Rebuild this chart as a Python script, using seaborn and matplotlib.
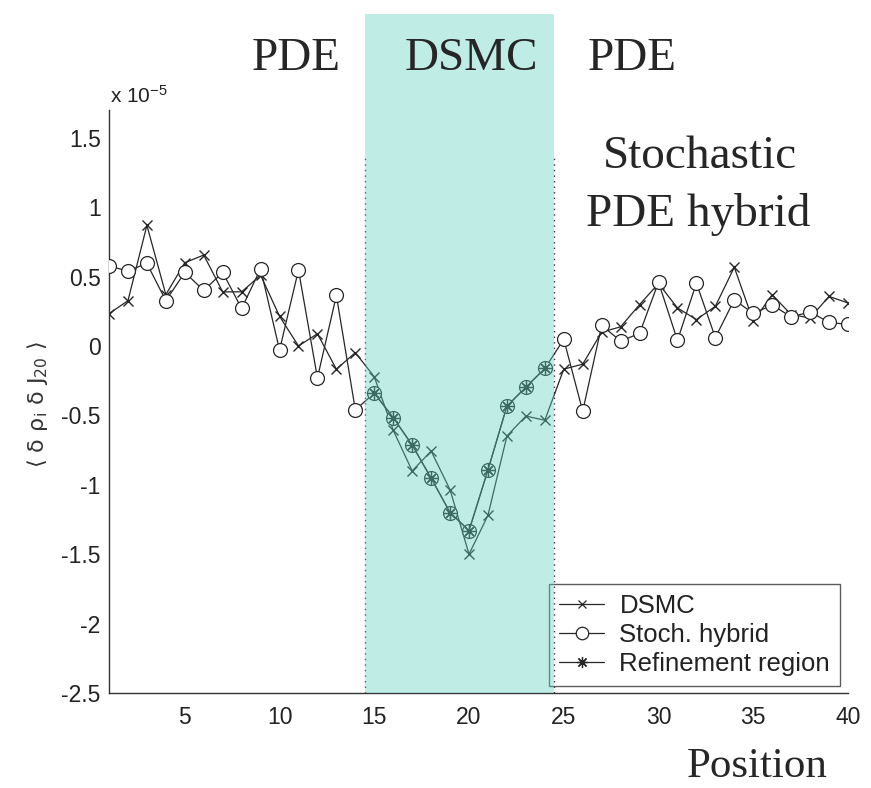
import matplotlib
matplotlib.use("Agg")
import matplotlib.pyplot as plt
import numpy as np
import pandas as pd
import seaborn as sns
from matplotlib.lines import Line2D
from matplotlib.patches import Rectangle
from matplotlib.transforms import blended_transform_factory
from matplotlib.font_manager import FontProperties

# Correlation <d rho_i d J_20> along the channel, in units of 1e-5
positions = list(range(1, 41))

dsmc = [0.233, 0.326, 0.869, 0.37, 0.60, 0.655, 0.39, 0.39, 0.51, 0.214,
        0.0, 0.088, -0.167, -0.048, -0.222, -0.607, -0.90, -0.757, -1.036, -1.50,
        -1.22, -0.648, -0.505, -0.535, -0.167, -0.131, 0.10, 0.138, 0.298, 0.45,
        0.274, 0.19, 0.286, 0.567, 0.179, 0.369, 0.226, 0.202, 0.357, 0.31]

# stochastic hybrid: PDE cells left of the patch, DSMC patch, PDE cells right
hybrid_left = [0.576, 0.54, 0.595, 0.326, 0.53, 0.40, 0.53, 0.27, 0.557, -0.03,
               0.548, -0.23, 0.364, -0.46]
refine_pos = list(range(15, 25))
refinement = [-0.34, -0.516, -0.714, -0.952, -1.20, -1.33, -0.893, -0.433, -0.297, -0.162]
hybrid_right = [0.048, -0.47, 0.148, 0.036, 0.09, 0.46, 0.04, 0.453, 0.06, 0.333,
                0.234, 0.295, 0.21, 0.245, 0.17, 0.155]

patch_lo, patch_hi = 14.5, 24.5
xticks = [5, 10, 15, 20, 25, 30, 35, 40]
yticks = [-2.5, -2, -1.5, -1, -0.5, 0, 0.5, 1, 1.5]
ytick_labels = ["-2.5", "-2", "-1.5", "-1", "-0.5", "0", "0.5", "1", "1.5"]

sns.set_theme(style="white")
plt.rcParams["font.family"] = ["Liberation Sans", "DejaVu Sans"]
plt.rcParams["mathtext.fontset"] = "custom"
plt.rcParams["mathtext.rm"] = "Liberation Sans"
plt.rcParams["mathtext.it"] = "Liberation Sans"

W, H = 871, 788
fig = plt.figure(figsize=(W / 100, H / 100), dpi=100)
fig.patch.set_facecolor("white")
ax = fig.add_axes([109 / W, 1 - 693 / H, (848 - 109) / W, (693 - 110) / H])
ax.set_facecolor("white")

df = pd.DataFrame({"Position": positions, "DSMC": dsmc,
                   "Hybrid": hybrid_left + refinement + hybrid_right})
df_ref = pd.DataFrame({"Position": refine_pos, "Refinement": refinement})

ink = "#262626"
sns.lineplot(data=df, x="Position", y="DSMC", ax=ax, color=ink, lw=0.9,
             marker="x", markersize=7, markeredgecolor=ink,
             markeredgewidth=1.0, zorder=2)
sns.lineplot(data=df, x="Position", y="Hybrid", ax=ax, color=ink, lw=0.9,
             marker="o", markersize=10, markerfacecolor="white",
             markeredgecolor=ink, markeredgewidth=0.9, zorder=3)
sns.lineplot(data=df_ref, x="Position", y="Refinement", ax=ax, color=ink, lw=0.9,
             marker=(8, 2, 0), markersize=9, markeredgecolor=ink,
             markeredgewidth=0.9, zorder=4)

ax.set_xlim(1, 40)
ax.set_ylim(-2.5, 1.7)
ax.set_xticks(xticks)
ax.set_xticklabels([str(t) for t in xticks])
ax.set_yticks(yticks)
ax.set_yticklabels(ytick_labels)
ax.set_xlabel("")
ax.set_ylabel("")
for side in ("top", "right"):
    ax.spines[side].set_visible(False)
for side in ("left", "bottom"):
    ax.spines[side].set_color("#333333")
    ax.spines[side].set_linewidth(1.0)
ax.tick_params(direction="in", length=6, width=1.0, color="#333333",
               labelsize=16.5, labelcolor="#222222")
ax.tick_params(axis="y", pad=6)
ax.tick_params(axis="x", pad=9)

# dotted borders of the DSMC patch
ax.vlines([patch_lo, patch_hi], -2.5, 1.37, colors="#333333", lw=1.0,
          linestyles=(0, (1, 3)), zorder=1)

handles = [
    Line2D([], [], color=ink, lw=0.9, marker="x", markersize=6,
           markeredgecolor=ink, markeredgewidth=0.9),
    Line2D([], [], color=ink, lw=0.9, marker="o", markersize=9,
           markerfacecolor="white", markeredgecolor=ink, markeredgewidth=0.9),
    Line2D([], [], color=ink, lw=0.9, marker=(8, 2, 0), markersize=8,
           markeredgecolor=ink, markeredgewidth=0.9),
]
leg = ax.legend(handles, ["DSMC", "Stoch. hybrid", "Refinement region"],
                loc="lower right", bbox_to_anchor=(0.989, 0.012), borderaxespad=0,
                fontsize=18.5, frameon=True, fancybox=False, handlelength=1.75,
                handletextpad=0.6, labelspacing=0.2, borderpad=0.38)
leg.get_frame().set_facecolor("none")
leg.get_frame().set_edgecolor("#333333")
leg.get_frame().set_linewidth(1.0)
for t in leg.get_texts():
    t.set_color("#222222")

# shaded DSMC patch, reaching above the axes
trans = blended_transform_factory(ax.transData, fig.transFigure)
ax_bottom = 1 - 693 / H
shade = Rectangle((patch_lo, ax_bottom), patch_hi - patch_lo, (1 - 14 / H) - ax_bottom,
                  transform=trans, facecolor="#5fd3c0", alpha=0.40, lw=0,
                  clip_on=False, zorder=6)
ax.add_patch(shade)

# exponent label and y axis label
fig.text(110 / W, 1 - 103 / H, r"x 10$^{-5}$", fontsize=15, color="#222222",
         ha="left", va="baseline")
ylab_font = FontProperties(family="DejaVu Sans", size=16, math_fontfamily="dejavusans")
fig.text(37 / W, 1 - 404 / H,
         r"$\langle\ \mathrm{\delta}\ \mathrm{\rho}_\mathrm{i}\ \mathrm{\delta}\ \mathrm{J}_{20}\ \rangle$",
         rotation=90, fontproperties=ylab_font, color="#333333",
         ha="center", va="center")

serif = ["Liberation Serif", "DejaVu Serif"]
fig.text(296 / W, 1 - 70 / H, "PDE", fontsize=34, family=serif, ha="center", va="baseline")
fig.text(471 / W, 1 - 70 / H, "DSMC", fontsize=34, family=serif, ha="center", va="baseline")
fig.text(632 / W, 1 - 70 / H, "PDE", fontsize=34, family=serif, ha="center", va="baseline")
fig.text(700 / W, 1 - 168 / H, "Stochastic", fontsize=34, family=serif, ha="center", va="baseline")
fig.text(698 / W, 1 - 226 / H, "PDE hybrid", fontsize=34, family=serif, ha="center", va="baseline")
fig.text(757 / W, 1 - 777 / H, "Position", fontsize=31, family=serif, ha="center", va="baseline")

fig.savefig("out.png", dpi=100, facecolor="white")
